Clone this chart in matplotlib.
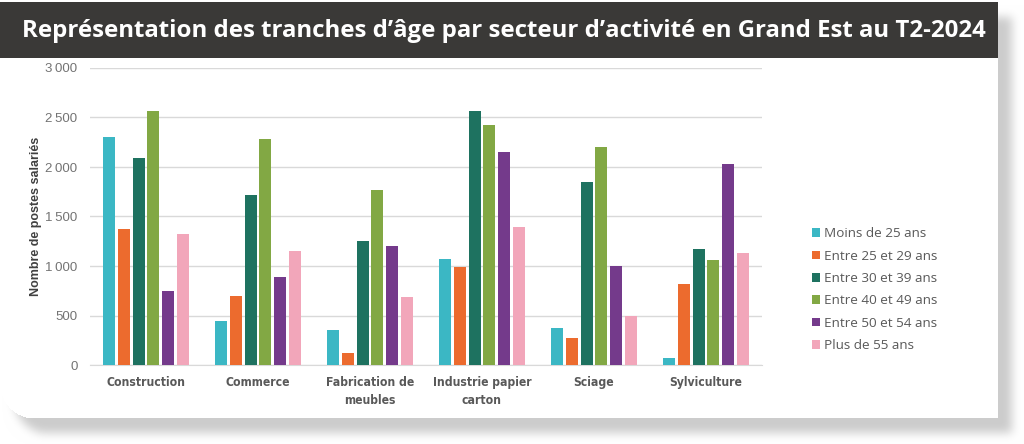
import matplotlib.pyplot as plt
from matplotlib.ticker import FuncFormatter
import numpy as np

secteurs = ['Construction', 'Commerce', 'Fabrication de\nmeubles',
            'Industrie papier\ncarton', 'Sciage', 'Sylviculture']
tranches = ['Moins de 25 ans', 'Entre 25 et 29 ans', 'Entre 30 et 39 ans',
            'Entre 40 et 49 ans', 'Entre 50 et 54 ans', 'Plus de 55 ans']
moins_25 = [2300, 441, 354, 1071, 372, 68]
entre_25_29 = [1371, 697, 126, 994, 277, 822]
entre_30_39 = [2089, 1715, 1254, 2569, 1846, 1173]
entre_40_49 = [2569, 2284, 1765, 2422, 2203, 1062]
entre_50_54 = [745, 893, 1199, 2149, 998, 2028]
plus_55 = [1328, 1153, 690, 1392, 499, 1132]
series = [moins_25, entre_25_29, entre_30_39, entre_40_49, entre_50_54, plus_55]
couleurs = ['#3bb7c4', '#ec6b2e', '#1e7260', '#82a844', '#743a8b', '#f2a6ba']

W, H = 1024, 444


def forme_carte(dx, dy, r=34):
    # masque de la carte : coin bas-gauche arrondi
    yy, xx = np.mgrid[0:H, 0:W]
    m = (xx >= 0 + dx) & (xx < 998 + dx) & (yy >= 2 + dy) & (yy < 418 + dy)
    cx, cy = r + dx, 418 - r + dy
    coin = (xx < cx) & (yy > cy) & ((xx - cx) ** 2 + (yy - cy) ** 2 > r ** 2)
    return (m & ~coin).astype(float)


def flou(img, k=5, n=3):
    for _ in range(n):
        ker = np.ones(2 * k + 1) / (2 * k + 1)
        img = np.apply_along_axis(lambda v: np.convolve(v, ker, mode='same'), 0, img)
        img = np.apply_along_axis(lambda v: np.convolve(v, ker, mode='same'), 1, img)
    return img


ombre = flou(forme_carte(14, 15), k=4, n=3)
carte = forme_carte(0, 0)
fond = np.ones((H, W, 3))
fond = fond - ombre[..., None] * (1 - 0.80)
fond[carte > 0] = 1.0
fond[2:58, 0:998] = np.array([0x3a, 0x39, 0x37]) / 255

fig = plt.figure(figsize=(W / 100, H / 100), dpi=100)
fig.figimage(fond, 0, 0, origin='upper', zorder=0)
fig.text(504 / W, (H - 31) / H,
         'Représentation des tranches d’âge par secteur d’activité en Grand Est au T2-2024',
         color='white', fontsize=17.3, fontweight='bold', family='Open Sans',
         ha='center', va='center', zorder=3)

ax = fig.add_axes([90 / W, (H - 365) / H, 672 / W, 297 / H], zorder=4)
ax.patch.set_alpha(0)
x = np.arange(len(secteurs))
pas = 0.131
larg = 0.107
for i, (vals, c, lab) in enumerate(zip(series, couleurs, tranches)):
    ax.bar(x + (i - 2.5) * pas, vals, width=larg, color=c, label=lab, zorder=3)

ax.set_xlim(-0.5, len(secteurs) - 0.5)
ax.set_ylim(0, 3000)
ax.set_yticks(range(0, 3001, 500))
ax.yaxis.set_major_formatter(FuncFormatter(lambda v, p: f'{int(v):,}'.replace(',', '\u2009')))
ax.grid(axis='y', color='#d9d9d9', linewidth=1, zorder=0)
for s in ['top', 'right', 'left']:
    ax.spines[s].set_visible(False)
ax.spines['bottom'].set_color('#d9d9d9')
ax.tick_params(axis='both', length=0)
ax.tick_params(axis='y', labelsize=9.5, labelcolor='#737373', pad=9)
ax.set_xticks(x)
ax.set_xticklabels(secteurs, fontsize=8.7, fontweight='bold', color='#595959',
                   family='DejaVu Sans', fontstretch='condensed', linespacing=1.5)
ax.tick_params(axis='x', pad=8)
for t in ax.get_yticklabels():
    t.set_family('Liberation Sans')
ax.set_ylabel('Nombre de postes salariés', fontsize=9, fontweight='bold',
              color='#404040', family='Liberation Sans', labelpad=2)

leg = fig.legend(loc='upper left', bbox_to_anchor=(800 / W, (H - 215) / H),
                 frameon=False, handlelength=0.6, handleheight=0.6,
                 handletextpad=0.3, labelspacing=0.7,
                 prop={'family': 'Open Sans', 'size': 9.7})
for t in leg.get_texts():
    t.set_color('#595959')
leg.set_zorder(5)

fig.savefig('out.png', dpi=100)
